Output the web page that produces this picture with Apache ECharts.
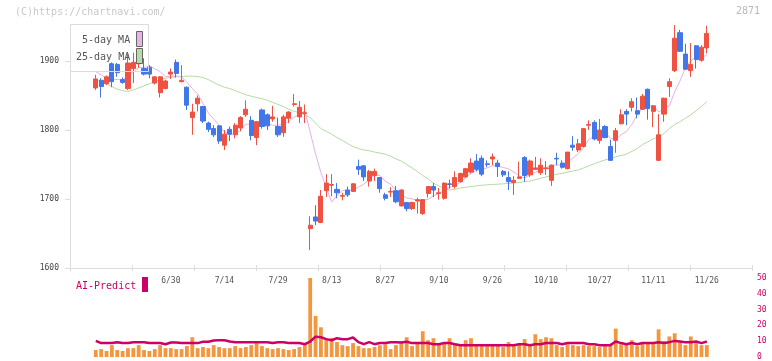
<!DOCTYPE html>
<html><head><meta charset="utf-8">
<script src="https://cdn.jsdelivr.net/npm/echarts@6/dist/echarts.min.js"></script>
<style>html,body{margin:0;padding:0;background:#fff}#c{width:772px;height:361px}</style>
</head><body><div id="c"></div>
<script>
const dates = ['6/10','6/11','6/12','6/13','6/16','6/17','6/18','6/19','6/20','6/23','6/24','6/25','6/26','6/27','6/30','7/1','7/2','7/3','7/4','7/7','7/8','7/9','7/10','7/11','7/14','7/15','7/16','7/17','7/18','7/22','7/23','7/24','7/25','7/28','7/29','7/30','7/31','8/1','8/4','8/5','8/6','8/7','8/8','8/12','8/13','8/14','8/15','8/18','8/19','8/20','8/21','8/22','8/25','8/26','8/27','8/28','8/29','9/1','9/2','9/3','9/4','9/5','9/8','9/9','9/10','9/11','9/12','9/16','9/17','9/18','9/19','9/22','9/24','9/25','9/26','9/29','9/30','10/1','10/2','10/3','10/6','10/7','10/8','10/9','10/10','10/14','10/15','10/16','10/17','10/20','10/21','10/22','10/23','10/24','10/27','10/28','10/29','10/30','10/31','11/4','11/5','11/6','11/7','11/10','11/11','11/12','11/13','11/14','11/17','11/18','11/19','11/20','11/21','11/25','11/26'];
const opens = [1861,1872,1867,1896,1895,1873,1860,1889,1896,1889,1891,1868,1854,1860,1881,1898,1870,1862,1818,1838,1834,1810,1802,1806,1778,1801,1793,1803,1822,1814,1789,1829,1822,1816,1805,1796,1817,1837,1819,1824,1657,1674,1666,1712,1720,1714,1704,1713,1711,1747,1748,1726,1734,1731,1706,1710,1712,1690,1695,1686,1697,1679,1708,1718,1708,1701,1722,1718,1725,1732,1739,1755,1759,1751,1758,1752,1740,1731,1724,1730,1760,1735,1743,1738,1744,1727,1759,1752,1744,1778,1771,1776,1807,1811,1785,1805,1776,1785,1809,1827,1833,1828,1830,1859,1827,1756,1823,1863,1886,1941,1910,1886,1922,1901,1919];
const closes = [1874,1863,1877,1870,1883,1869,1897,1898,1907,1881,1881,1877,1877,1871,1884,1882,1872,1836,1826,1846,1813,1801,1793,1784,1794,1794,1807,1818,1830,1792,1812,1805,1806,1819,1793,1819,1826,1838,1833,1825,1662,1668,1704,1723,1721,1709,1705,1706,1722,1743,1732,1740,1740,1715,1701,1711,1696,1713,1686,1695,1699,1699,1718,1713,1709,1723,1721,1731,1737,1744,1752,1743,1736,1750,1761,1747,1735,1725,1727,1732,1734,1755,1745,1749,1745,1749,1758,1746,1768,1775,1780,1802,1808,1787,1800,1789,1756,1799,1822,1823,1841,1823,1849,1831,1835,1793,1846,1870,1933,1914,1888,1895,1902,1920,1940];
const lows = [1858,1847,1865,1862,1877,1867,1858,1868,1890,1879,1875,1866,1847,1859,1874,1876,1869,1829,1793,1827,1810,1797,1790,1780,1771,1784,1788,1798,1819,1785,1778,1802,1800,1812,1790,1790,1810,1834,1810,1810,1626,1662,1665,1703,1704,1701,1698,1703,1710,1735,1726,1718,1726,1709,1698,1703,1694,1689,1682,1684,1679,1677,1702,1703,1699,1699,1715,1715,1724,1731,1737,1740,1733,1746,1749,1732,1732,1713,1706,1729,1725,1732,1742,1735,1735,1719,1749,1744,1743,1770,1768,1775,1800,1785,1780,1788,1755,1767,1808,1807,1827,1817,1829,1815,1804,1755,1812,1848,1884,1913,1888,1877,1889,1899,1911];
const highs = [1880,1875,1879,1898,1897,1876,1910,1912,1917,1904,1894,1878,1878,1873,1889,1902,1894,1863,1838,1850,1835,1812,1807,1807,1800,1805,1810,1820,1843,1820,1813,1831,1824,1835,1818,1822,1827,1852,1842,1837,1675,1691,1713,1736,1736,1723,1709,1718,1723,1757,1749,1742,1744,1732,1709,1717,1719,1714,1695,1696,1702,1700,1718,1723,1716,1724,1728,1740,1738,1745,1759,1765,1763,1756,1766,1757,1742,1740,1733,1754,1762,1757,1761,1759,1755,1750,1767,1756,1768,1791,1787,1803,1814,1814,1816,1807,1786,1803,1830,1830,1846,1847,1852,1860,1836,1823,1847,1875,1952,1945,1925,1926,1923,1923,1951];
const ma5 = [1884.5,1880,1875,1872.5,1873.4,1872.4,1879.2,1883.4,1890.8,1890.4,1892.8,1888.8,1884.6,1877.4,1878,1878.2,1877.2,1869,1860,1852.4,1838.6,1824.4,1815.8,1807.4,1797,1793.2,1794.4,1799.4,1808.6,1808.2,1811.8,1811.4,1809,1806.8,1807,1808.4,1812.6,1819,1821.8,1828.2,1796.8,1765.2,1738.4,1716.4,1695.6,1705,1712.4,1712.8,1712.6,1717,1721.6,1728.6,1735.4,1734,1725.6,1721.4,1712.6,1707.2,1701.4,1700.2,1697.8,1698.4,1699.4,1704.8,1707.6,1712.4,1716.8,1719.4,1724.2,1731.2,1737,1741.4,1742.4,1745,1748.4,1747.4,1745.8,1743.6,1739,1733.2,1730.6,1734.6,1738.6,1743,1745.6,1748.6,1749.2,1749.4,1753.2,1759.2,1765.4,1774.2,1786.6,1790.4,1795.4,1797.2,1788,1786.2,1793.2,1797.8,1808.2,1821.6,1831.6,1833.4,1835.8,1826.2,1830.8,1835,1855.4,1871.2,1890.2,1900,1906.4,1903.8,1909];
const ma25 = [1873,1870,1867,1863,1859,1857,1856,1858,1861,1864,1867,1870,1873,1875,1876,1877,1877.5,1878,1878,1877.5,1876,1873,1869,1865,1862,1860,1857,1854,1851,1849,1847,1845.5,1843,1840,1837,1834,1830,1827,1825,1822,1818,1810,1802,1798,1794,1789,1785,1780,1776,1773,1771,1770,1768,1766.5,1765,1762,1758,1755,1750,1745,1740,1734,1729,1723,1719,1715,1713,1714,1716,1717,1718,1719,1720,1720.5,1721,1721.5,1722,1722.5,1723,1724,1725,1726,1728,1730,1732,1734,1736,1737,1739,1740.5,1742,1745,1748,1751,1754,1756.5,1759,1761,1763,1765,1769,1773,1779,1783,1787,1790,1795,1802,1808,1812,1817,1822,1828,1834,1841];
const volume = [4.4,5,3.8,7.5,4.4,3.8,5.6,5.6,7.5,4.4,3.8,5,7.5,5.6,5.6,5,5,6.9,12.5,5.6,6.3,5.6,7.5,6.3,5.6,5.6,6.9,5.6,6.3,7.5,8.8,6.9,5.6,5,5.6,5,4.4,5,6.3,8.8,50,26,18.8,11.3,11.9,9.4,7.5,6.9,8.8,6.9,5.6,5.6,6.3,7.5,8.1,5,7.5,10,12.5,6.9,8.8,16.3,10.6,11.9,8.8,8.8,11.9,8.8,7.5,10.6,11.9,7.5,7.5,7.5,7.5,7.5,6.3,9.4,7.5,8.8,11.3,8.1,14.4,11.3,12.5,11.9,7.5,6.3,8.1,7.5,6.9,7.5,6.9,6.9,6.3,6.9,7.5,18,8.1,8.1,10.6,6.9,9.4,8.8,8.8,17.5,10,13,15,9.4,7.5,13,9.4,7.5,7.5];
const aiPredict = [10.2,8.8,8.8,8.8,9.4,8.8,8.8,9.4,9.4,9.4,8.8,8.8,8.8,8.1,9.2,9.2,8.8,8.8,8.8,8.8,9.6,9.6,10.4,10.6,10.6,9.8,9.4,9.4,9.4,9.4,9.4,9.4,9.4,8.8,9.4,9.4,8.8,8.8,8.8,8.1,9.8,12.9,12.5,11.3,10.6,11.9,11.3,11.3,12.3,9.4,8.1,9.4,8.1,8.8,8.8,9.4,9.4,9.2,9.6,8.8,8.8,8.8,8.8,8.1,8.1,8.8,8.8,8.1,7.5,7.5,7.5,7.5,7.5,7.5,7.5,7.5,7.5,7.5,7.5,8.1,8.1,7.5,8.1,8.1,8.8,8.8,8.8,8.1,8.8,8.8,8.8,8.8,8.1,8.1,7.5,7.5,7.5,9.8,8.8,8.1,8.8,8.1,8.8,8.8,8.8,9.4,8.8,9.4,10.2,9.8,9.4,9.4,9.8,8.8,9.8];
const priceTicks = [1600,1700,1800,1900];
const volTicks = [0,10,20,30,40,50];
const firstLabelIndex = 14, labelStep = 10;

const candleData = opens.map((o,i)=>[o, closes[i], lows[i], highs[i]]);
const MONO = '"DejaVu Sans Mono", monospace';
const PMIN = 1600, PMAX = 1953.6;
const chart = echarts.init(document.getElementById('c'), null, {renderer:'canvas'});
chart.setOption({
  animation:false,
  backgroundColor:'#ffffff',
  grid:[
    {left:70, right:20, top:24, bottom:93},
    {left:93.12, right:62.48, top:24, bottom:93},
    {left:93.12, right:62.48, top:278, bottom:3}
  ],
  xAxis:[
    {gridIndex:0, type:'value', min:0, max:11, interval:1, axisLine:{show:true, lineStyle:{color:'#dddddd'}}, axisTick:{show:true, length:3, lineStyle:{color:'#dddddd'}}, axisLabel:{show:false}, splitLine:{show:false}},
    {gridIndex:0, type:'value', min:0, max:11, interval:1, position:'bottom', axisLine:{show:false}, axisTick:{show:true, inside:true, length:3, lineStyle:{color:'#dddddd'}}, axisLabel:{show:false}, splitLine:{show:false}},
    {gridIndex:1, type:'category', data:dates, boundaryGap:true, axisLine:{show:false}, axisTick:{show:false}, splitLine:{show:false},
      axisLabel:{show:true, interval:(idx)=> idx>=firstLabelIndex && (idx-firstLabelIndex)%labelStep===0, margin:9, fontSize:8, fontFamily:MONO, color:'#555555', hideOverlap:false}},
    {gridIndex:2, type:'category', data:dates, boundaryGap:true, show:false}
  ],
  yAxis:[
    {gridIndex:0, type:'value', min:PMIN, max:PMAX, axisLine:{show:true, lineStyle:{color:'#dddddd'}}, axisTick:{show:true, length:5, customValues:priceTicks, lineStyle:{color:'#dddddd'}}, axisLabel:{show:true, customValues:priceTicks, formatter:(v)=>String(v), margin:11, fontSize:8, fontFamily:MONO, color:'#444444'}, splitLine:{show:false}},
    {gridIndex:0, type:'value', min:PMIN, max:PMAX, axisLine:{show:false}, axisTick:{show:true, inside:true, length:3, customValues:priceTicks, lineStyle:{color:'#dddddd'}}, axisLabel:{show:false}, splitLine:{show:false}},
    {gridIndex:1, type:'value', min:PMIN, max:PMAX, show:false, splitLine:{show:false}},
    {gridIndex:2, type:'value', min:0, max:50, interval:10, position:'right', axisLine:{show:false}, axisTick:{show:false}, splitLine:{show:false},
      axisLabel:{show:true, customValues:volTicks, formatter:(v)=>String(v), margin:47.5, fontSize:8, fontFamily:MONO, color:'#cc0066', align:'left'}}
  ],
  graphic:[
    {type:'text', x:15, y:12, style:{text:'(C)https://chartnavi.com/', font:'10px '+MONO, fill:'#c8c8c8', verticalAlign:'middle'}},
    {type:'text', x:760, y:11, style:{text:'2871', font:'10px '+MONO, fill:'#b8b8b8', align:'right', verticalAlign:'middle'}},
    {type:'rect', shape:{x:70.5, y:24.5, width:78, height:47}, style:{fill:'none', stroke:'#dcdcdc', lineWidth:1}, z:100},
    {type:'text', x:82, y:40, style:{text:'5-day MA', font:'10px '+MONO, fill:'#555555', verticalAlign:'middle'}, z:100},
    {type:'text', x:76, y:57, style:{text:'25-day MA', font:'10px '+MONO, fill:'#555555', verticalAlign:'middle'}, z:100},
    {type:'rect', shape:{x:136.5, y:31.5, width:6, height:15}, style:{fill:'#e8b4e6', stroke:'#666666', lineWidth:1}, z:100},
    {type:'rect', shape:{x:136.5, y:48.5, width:6, height:15}, style:{fill:'#b8dca8', stroke:'#666666', lineWidth:1}, z:100},
    {type:'text', x:76, y:286, style:{text:'AI-Predict', font:'10px '+MONO, fill:'#cc0066', verticalAlign:'middle'}},
    {type:'rect', shape:{x:142, y:277, width:6, height:15}, style:{fill:'#cc0066'}}
  ],
  series:[
    {type:'line', xAxisIndex:2, yAxisIndex:2, data:ma25, symbol:'none', lineStyle:{color:'#b5dba5', width:1}, z:1},
    {type:'line', xAxisIndex:2, yAxisIndex:2, data:ma5, symbol:'none', lineStyle:{color:'#e8b0e8', width:1}, z:1},
    {type:'candlestick', xAxisIndex:2, yAxisIndex:2, data:candleData, barWidth:4.6, z:3,
      itemStyle:{color:'#ef5240', color0:'#4177e8', borderColor:'#ef5240', borderColor0:'#4177e8', borderWidth:1}},
    {type:'bar', xAxisIndex:3, yAxisIndex:3, data:volume, barWidth:3.8, itemStyle:{color:'#f2963f'}, z:2},
    {type:'line', xAxisIndex:3, yAxisIndex:3, data:aiPredict, symbol:'none', lineStyle:{color:'#cc0066', width:2.5}, z:3}
  ]
});
</script></body></html>
